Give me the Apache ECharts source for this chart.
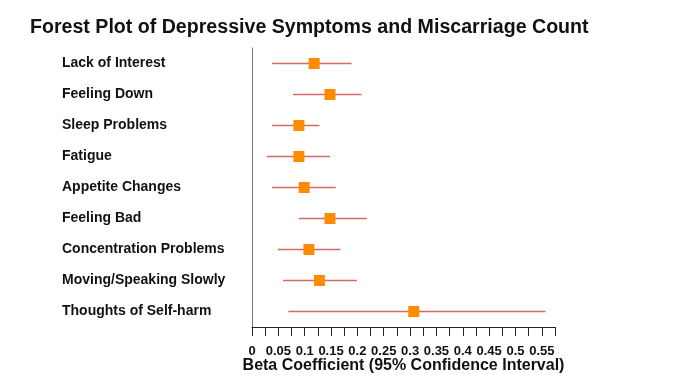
<!DOCTYPE html>
<html>
<head>
<meta charset="utf-8">
<script src="https://cdn.jsdelivr.net/npm/echarts@6/dist/echarts.min.js"></script>
<style>html,body{margin:0;padding:0;background:#fff;}#c{width:682px;height:388px;}</style>
</head>
<body>
<div id="c"></div>
<script>
const categories = ["Lack of Interest","Feeling Down","Sleep Problems","Fatigue","Appetite Changes","Feeling Bad","Concentration Problems","Moving/Speaking Slowly","Thoughts of Self-harm"];
const estimates = [0.118, 0.148, 0.089, 0.089, 0.099, 0.148, 0.108, 0.128, 0.307];
const lowerCI = [0.038, 0.078, 0.038, 0.028, 0.038, 0.089, 0.049, 0.059, 0.069];
const upperCI = [0.189, 0.208, 0.128, 0.148, 0.159, 0.218, 0.168, 0.199, 0.557];

const chart = echarts.init(document.getElementById('c'));
const ciData = categories.map((c, i) => [lowerCI[i], upperCI[i], i]);
const ptData = categories.map((c, i) => [estimates[i], c]);

chart.setOption({
  animation: false,
  title: {
    text: 'Forest Plot of Depressive Symptoms and Miscarriage Count',
    left: 25, top: 13,
    textStyle: { fontFamily: 'Liberation Sans, Arial', fontWeight: 'bold', fontSize: 19.6, color: '#111' }
  },
  grid: { left: 252, right: 127, top: 48, bottom: 61 },
  xAxis: {
    type: 'value', min: 0, max: 0.575, interval: 0.025,
    splitLine: { show: false },
    axisLine: { show: true, lineStyle: { color: '#222', width: 1 } },
    axisTick: { show: true, length: 9, lineStyle: { color: '#222' } },
    axisLabel: {
      margin: 18,
      fontFamily: 'Liberation Sans, Arial', fontWeight: 'bold', fontSize: 13, color: '#111',
      formatter: v => { const k = Math.round(v * 1000); return k % 50 === 0 ? String(+(k / 1000).toFixed(2)) : ''; }
    },
    name: 'Beta Coefficient (95% Confidence Interval)',
    nameLocation: 'middle', nameGap: 31, nameMoveOverlap: false,
    nameTextStyle: { fontFamily: 'Liberation Sans, Arial', fontWeight: 'bold', fontSize: 16, color: '#111' }
  },
  yAxis: {
    type: 'category', data: categories, inverse: true,
    axisLine: { show: true, lineStyle: { color: '#777', width: 1 } },
    axisTick: { show: false },
    splitLine: { show: false },
    axisLabel: {
      align: 'left', margin: 190,
      fontFamily: 'Liberation Sans, Arial', fontWeight: 'bold', fontSize: 14, color: '#111'
    }
  },
  series: [
    {
      type: 'custom',
      data: ciData,
      encode: { x: [0, 1], y: 2 },
      renderItem: (params, api) => {
        const p1 = api.coord([api.value(0), api.value(2)]);
        const p2 = api.coord([api.value(1), api.value(2)]);
        return { type: 'line', shape: { x1: p1[0], y1: p1[1], x2: p2[0], y2: p2[1] },
                 style: { stroke: '#d46a66', lineWidth: 1.5 } };
      },
      z: 2
    },
    {
      type: 'scatter',
      data: ptData,
      symbol: 'rect', symbolSize: 11,
      itemStyle: { color: '#ff8c00', opacity: 1 },
      z: 3
    }
  ]
});
</script>
</body>
</html>
